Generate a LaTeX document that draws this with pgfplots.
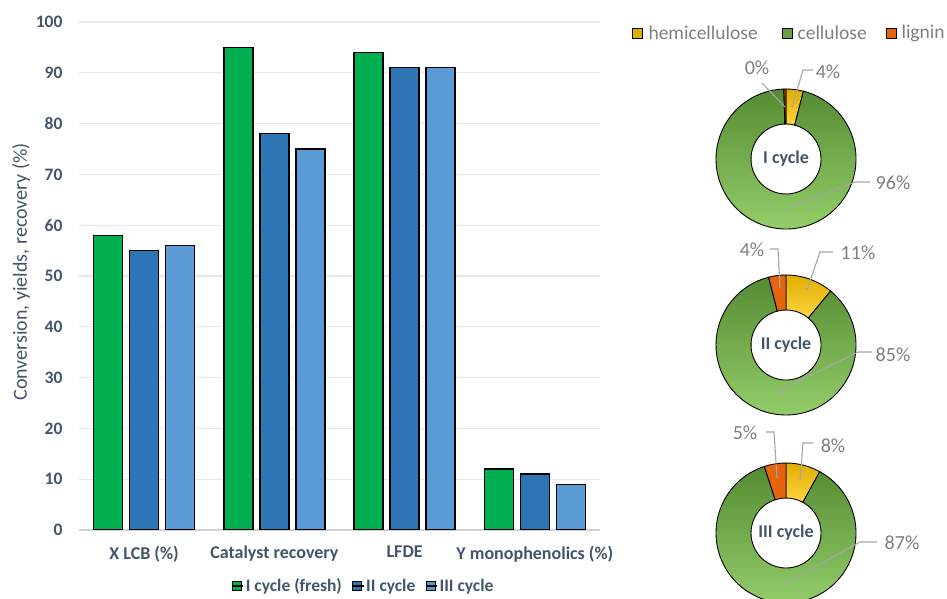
\documentclass[border=0pt]{standalone}
\usepackage{fontspec}
\setmainfont{Carlito}
\usepackage{pgfplots}
\pgfplotsset{compat=1.18}
\usepackage{pgfplotstable}
\usetikzlibrary{calc}

\definecolor{cgreen}{HTML}{00B050}
\definecolor{cdblue}{HTML}{2E75B6}
\definecolor{clblue}{HTML}{5B9BD5}
\definecolor{txt}{HTML}{44546A}
\definecolor{txtd}{HTML}{333F50}
\definecolor{gridc}{HTML}{E3E7EE}
\definecolor{lblgray}{HTML}{7F7F7F}
\definecolor{leadc}{HTML}{A6A6A6}
\definecolor{hemi}{HTML}{E0AE00}
\definecolor{hemil}{HTML}{FFD440}
\definecolor{cell}{HTML}{558B33}
\definecolor{celll}{HTML}{97D16C}
\definecolor{lig}{HTML}{E8650F}

\pgfplotstableread{
cat I II III
0 58 55 56
1 95 78 75
2 94 91 91
3 12 11 9
}\bars

\newcommand{\wedgeD}[5]{%
\path[#5] ($(axis cs:#1,#2)+({90-3.6*#3}:70bp)$) arc[start angle={90-3.6*#3}, end angle={90-3.6*#4}, radius=70bp]
 -- ($(axis cs:#1,#2)+({90-3.6*#4}:35bp)$) arc[start angle={90-3.6*#4}, end angle={90-3.6*#3}, radius=35bp] -- cycle;}

\begin{document}
\begin{tikzpicture}
\useasboundingbox (0,0) rectangle (947bp,599bp);
\begin{axis}[
  scale only axis, width=521bp, height=508bp,
  at={(79bp,69bp)}, anchor=south west,
  ybar=7bp, bar width=29bp,
  xmin=-0.5, xmax=3.5, ymin=0, ymax=100,
  enlargelimits=false,
  xtick={0,1,2,3},
  xticklabels={X LCB (\%), Catalyst recovery, LFDE, Y monophenolics (\%)},
  x tick label style={font=\fontsize{18bp}{20bp}\selectfont\bfseries, text=txt, yshift=-8bp},
  ytick={0,10,...,100},
  y tick label style={font=\fontsize{17.5bp}{19bp}\selectfont\bfseries, text=txt, xshift=-13bp},
  /pgf/number format/assume math mode=true,
  ymajorgrids, grid style={draw=gridc, line width=1.2bp},
  axis x line*=bottom, axis y line*=left,
  y axis line style={draw=none},
  x axis line style={draw=gridc!80!gray, line width=1.2bp},
  tick style={draw=none},
  ylabel={Conversion, yields, recovery (\%)},
  ylabel style={at={(axis description cs:-0.111,0.508)}, anchor=center, font=\fontsize{20bp}{22bp}\selectfont, text=txt},
  legend columns=3,
  legend style={at={(axis description cs:0.546,-0.110)}, anchor=center, draw=none, fill=none,
    font=\fontsize{17.5bp}{19bp}\selectfont\bfseries, text=txt,
    /tikz/every even column/.append style={column sep=8bp}},
  legend image code/.code={\draw[#1, draw=black, line width=0.9bp] (0bp,-4.5bp) rectangle (9bp,4.5bp); \path (0bp,0bp) -- (11bp,0bp);},
]
\addplot[fill=cgreen, draw=black, line width=1.3bp] table[x=cat, y=I]{\bars};
\addplot[fill=cdblue, draw=black, line width=1.3bp] table[x=cat, y=II]{\bars};
\addplot[fill=clblue, draw=black, line width=1.3bp] table[x=cat, y=III]{\bars};
\legend{I cycle (fresh), II cycle, III cycle}
\end{axis}

\begin{axis}[
  scale only axis, width=947bp, height=599bp,
  at={(0bp,0bp)}, anchor=south west,
  xmin=0, xmax=947, ymin=0, ymax=599, y dir=reverse,
  hide axis, clip=false,
]
% legend on top
\path[draw=black, line width=0.8bp, fill=hemi] (axis cs:632,28) rectangle (axis cs:642,38);
\node[anchor=west, text=lblgray, font=\fontsize{19.5bp}{21bp}\selectfont] at (axis cs:645,33) {hemicellulose};
\path[draw=black, line width=0.8bp, fill=cell!70!celll] (axis cs:782,28) rectangle (axis cs:792,38);
\node[anchor=west, text=lblgray, font=\fontsize{19.5bp}{21bp}\selectfont] at (axis cs:794,33) {cellulose};
\path[draw=black, line width=0.8bp, fill=lig] (axis cs:886,28) rectangle (axis cs:896,38);
\node[anchor=west, text=lblgray, font=\fontsize{19.5bp}{21bp}\selectfont] at (axis cs:898,33) {lignin};

% donut I: hemi 4, cellulose 96, lignin ~0
\wedgeD{786}{159}{0}{4}{draw=black, line width=0.9bp, top color=hemi, bottom color=hemil}
\wedgeD{786}{159}{4}{99.5}{draw=black, line width=0.9bp, top color=cell, bottom color=celll}
\wedgeD{786}{159}{99.5}{100}{draw=black, line width=0.9bp, fill=lig!70!black}
\node[font=\fontsize{18bp}{20bp}\selectfont\bfseries, text=txt] at (axis cs:786,159) {I cycle};

% donut II: hemi 11, cellulose 85, lignin 4
\wedgeD{786}{345}{0}{11}{draw=black, line width=0.9bp, top color=hemi, bottom color=hemil}
\wedgeD{786}{345}{11}{96}{draw=black, line width=0.9bp, top color=cell, bottom color=celll}
\wedgeD{786}{345}{96}{100}{draw=black, line width=0.9bp, fill=lig}
\node[font=\fontsize{18bp}{20bp}\selectfont\bfseries, text=txt] at (axis cs:786,345) {II cycle};

% donut III: hemi 8, cellulose 87, lignin 5
\wedgeD{786}{533}{0}{8}{draw=black, line width=0.9bp, top color=hemi, bottom color=hemil}
\wedgeD{786}{533}{8}{95}{draw=black, line width=0.9bp, top color=cell, bottom color=celll}
\wedgeD{786}{533}{95}{100}{draw=black, line width=0.9bp, fill=lig}
\node[font=\fontsize{18bp}{20bp}\selectfont\bfseries, text=txt] at (axis cs:786,533) {III cycle};

% leader lines
\draw[leadc, line width=1.1bp] (axis cs:762,83) -- (axis cs:785,107);
\draw[leadc, line width=1.1bp] (axis cs:813,70) -- (axis cs:803,70) -- (axis cs:792,107);
\draw[leadc, line width=1.1bp] (axis cs:870,182) -- (axis cs:855,182) -- (axis cs:782,210);
\draw[leadc, line width=1.1bp] (axis cs:770,249) -- (axis cs:778,249) -- (axis cs:780,288);
\draw[leadc, line width=1.1bp] (axis cs:833,252) -- (axis cs:820,252) -- (axis cs:807,290);
\draw[leadc, line width=1.1bp] (axis cs:872,352) -- (axis cs:858,352) -- (axis cs:777,392);
\draw[leadc, line width=1.1bp] (axis cs:766,432) -- (axis cs:774,432) -- (axis cs:777,478);
\draw[leadc, line width=1.1bp] (axis cs:813,443) -- (axis cs:803,443) -- (axis cs:800,480);
\draw[leadc, line width=1.1bp] (axis cs:877,542) -- (axis cs:860,542) -- (axis cs:782,585);

% labels
\begin{scope}[every node/.style={text=lblgray, font=\fontsize{20bp}{22bp}\selectfont}]
\node at (axis cs:757,68) {0\%};
\node at (axis cs:828,72) {4\%};
\node at (axis cs:893,183) {96\%};
\node at (axis cs:752,250) {4\%};
\node at (axis cs:858,253) {11\%};
\node at (axis cs:893,355) {85\%};
\node at (axis cs:745,433) {5\%};
\node at (axis cs:833,446) {8\%};
\node at (axis cs:902,543) {87\%};
\end{scope}
\end{axis}
\end{tikzpicture}
\end{document}
